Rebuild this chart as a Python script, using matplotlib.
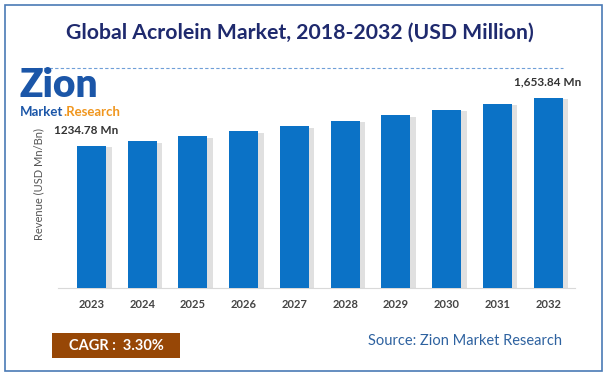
import matplotlib.pyplot as plt
import matplotlib.patheffects as pe
from matplotlib.patches import Rectangle

years = ['2023', '2024', '2025', '2026', '2027', '2028', '2029', '2030', '2031', '2032']
revenue = [1234.78, 1275.5, 1317.6, 1361.1, 1406.0, 1452.4, 1500.3, 1549.8, 1601.0, 1653.84]
first_label = '1234.78 Mn'
last_label = '1,653.84 Mn'

W, H = 607, 378
fig = plt.figure(figsize=(W / 100, H / 100), dpi=100)
plt.rcParams['font.family'] = ['Lato', 'DejaVu Sans']

def fx(px):
    return px / W

def fy(py):
    return 1 - py / H

# outer frame
fig.patches.append(Rectangle((fx(5), fy(371)), fx(597), (366) / H, transform=fig.transFigure,
                             fill=False, edgecolor='#4a7ab5', linewidth=1.2))

fig.text(fx(300), fy(33), 'Global Acrolein Market, 2018-2032 (USD Million)', ha='center', va='center',
         fontsize=15.3, fontweight='bold', color='#1f2a6e')
fig.add_artist(plt.Line2D([fx(38), fx(563)], [fy(68), fy(68)], transform=fig.transFigure,
                          color='#6f9fd8', linestyle=(0, (3, 2)), linewidth=0.8))

# logo
fig.text(fx(19), fy(97), 'Zion', ha='left', va='baseline', fontsize=28, fontweight='heavy',
         color='#1b56a8')
t1 = fig.text(fx(20), fy(112), 'Market', ha='left', va='center', fontsize=9.5, fontweight='bold',
              color='#1b56a8')
r = fig.canvas.get_renderer()
bb = t1.get_window_extent(r)
fig.text(bb.x1 / W, fy(112), '.Research', ha='left', va='center', fontsize=9.5, fontweight='bold',
         color='#f0961e')

ax = fig.add_axes([fx(58), 1 - 288 / H, fx(517), 207 / H])
x = range(len(years))
bars = ax.bar(x, revenue, width=0.57, color='#0b72c6', zorder=3)
for b in bars:
    b.set_path_effects([pe.SimplePatchShadow(offset=(4, -1), shadow_rgbFace='#999999', alpha=0.3),
                        pe.Normal()])
ax.set_xlim(-0.66, 9.53)
ax.set_ylim(0, 1800)
ax.set_xticks(list(x))
ax.set_xticklabels(years, fontsize=8, fontweight='bold', color='#444444')
ax.tick_params(axis='x', length=0, pad=8)
ax.set_yticks([])
for s in ['top', 'right', 'left']:
    ax.spines[s].set_visible(False)
ax.spines['bottom'].set_color('#d9d9d9')
ax.set_ylabel('Revenue (USD Mn/Bn)', fontsize=8, color='#555555', labelpad=10)

ax.text(-0.1, revenue[0] + 90, first_label, ha='center', va='bottom', fontsize=8.5,
        fontweight='bold', color='#333333')
ax.text(9.0, revenue[-1] + 90, last_label, ha='center', va='bottom', fontsize=8.5,
        fontweight='bold', color='#333333')

# CAGR box and source
fig.patches.append(Rectangle((fx(52), fy(358)), fx(128), 25 / H, transform=fig.transFigure,
                             facecolor='#974706', edgecolor='none'))
fig.text(fx(116), fy(345.5), 'CAGR :  3.30%', ha='center', va='center', fontsize=10.5,
         fontweight='bold', color='white')
fig.text(fx(562), fy(341), 'Source: Zion Market Research', ha='right', va='center', fontsize=10.5,
         color='#2e62a0')

fig.savefig('out.png', dpi=100)
